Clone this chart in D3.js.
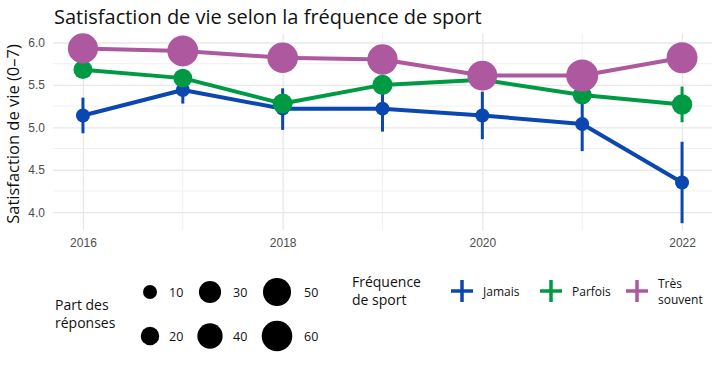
<!DOCTYPE html>
<html>
<head>
<meta charset="utf-8">
<script src="https://cdn.jsdelivr.net/npm/d3@7"></script>
<style>
  body { margin: 0; background: #fff; }
  svg { font-family: "Open Sans", "DejaVu Sans", sans-serif; }
</style>
</head>
<body>
<div class="chart"></div>
<script>
const years = [2016, 2017, 2018, 2019, 2020, 2021, 2022];
const groups = ["Jamais", "Parfois", "Très souvent"];
const groupLabels = [["Jamais"], ["Parfois"], ["Très", "souvent"]];
const colors = ["#0a47b1", "#009a44", "#ae589f"];

// mean life satisfaction
const jamaisMean = [5.14, 5.44, 5.22, 5.22, 5.14, 5.04, 4.35];
const parfoisMean = [5.68, 5.58, 5.28, 5.50, 5.56, 5.38, 5.27];
const tresMean = [5.93, 5.90, 5.82, 5.80, 5.61, 5.61, 5.82];
// confidence interval bounds
const jamaisLow = [4.93, 5.28, 4.97, 4.95, 4.86, 4.72, 3.87];
const jamaisHigh = [5.35, 5.58, 5.46, 5.48, 5.42, 5.36, 4.83];
const parfoisLow = [5.58, 5.48, 5.17, 5.40, 5.46, 5.28, 5.06];
const parfoisHigh = [5.78, 5.68, 5.39, 5.60, 5.66, 5.48, 5.48];
const tresLow = [5.87, 5.84, 5.76, 5.74, 5.55, 5.55, 5.76];
const tresHigh = [5.99, 5.96, 5.88, 5.86, 5.67, 5.67, 5.88];
// share of responses (%)
const jamaisShare = [10, 10, 10, 10, 10, 10, 10];
const parfoisShare = [21, 21, 24, 24, 23, 21, 25];
const tresShare = [58, 61, 60, 59, 57, 66, 61];

const sizeBreaks = [10, 20, 30, 40, 50, 60];
const yTicks = [4.0, 4.5, 5.0, 5.5, 6.0];
const yMinor = [4.25, 4.75, 5.25, 5.75];
const xTicks = [2016, 2018, 2020, 2022];
const xMinor = [2017, 2019, 2021];

const means = [jamaisMean, parfoisMean, tresMean];
const lows = [jamaisLow, parfoisLow, tresLow];
const highs = [jamaisHigh, parfoisHigh, tresHigh];
const shares = [jamaisShare, parfoisShare, tresShare];

const series = groups.map((g, gi) => years.map((yr, i) => ({
    group: gi, year: yr, mean: means[gi][i], low: lows[gi][i], high: highs[gi][i], share: shares[gi][i]
})));

const width = 720, height = 371;
const panel = {left: 53, right: 712, top: 34, bottom: 230};

const svg = d3.select(".chart").append("svg")
    .attr("width", width)
    .attr("height", height);

const x = d3.scaleLinear().domain([2015.7, 2022.3]).range([panel.left, panel.right]);
const y = d3.scaleLinear().domain([3.79, 6.1]).range([panel.bottom, panel.top]);
const size = d3.scaleRadial().domain([10, 60]).range([7, 15.3]);

// grid
svg.append("g").selectAll("line").data(yMinor).enter().append("line")
    .attr("x1", panel.left).attr("x2", panel.right)
    .attr("y1", d => y(d)).attr("y2", d => y(d))
    .attr("stroke", "#f0f0f0").attr("stroke-width", 1);
svg.append("g").selectAll("line").data(xMinor).enter().append("line")
    .attr("x1", d => x(d)).attr("x2", d => x(d))
    .attr("y1", panel.top).attr("y2", panel.bottom)
    .attr("stroke", "#f0f0f0").attr("stroke-width", 1);

const yGrid = svg.append("g")
    .attr("transform", `translate(${panel.left},0)`)
    .call(d3.axisLeft(y).tickValues(yTicks).tickSize(-(panel.right - panel.left)).tickFormat(""));
yGrid.select(".domain").remove();
yGrid.selectAll("line").attr("stroke", "#e8e8e8").attr("stroke-width", 1.3);

const xGrid = svg.append("g")
    .attr("transform", `translate(0,${panel.bottom})`)
    .call(d3.axisBottom(x).tickValues(xTicks).tickSize(-(panel.bottom - panel.top)).tickFormat(""));
xGrid.select(".domain").remove();
xGrid.selectAll("line").attr("stroke", "#e8e8e8").attr("stroke-width", 1.3);

// axis labels
const yAxis = svg.append("g")
    .attr("transform", `translate(${panel.left},0)`)
    .call(d3.axisLeft(y).tickValues(yTicks).tickSize(0).tickPadding(8).tickFormat(d3.format(".1f")));
yAxis.select(".domain").remove();
yAxis.selectAll("text").attr("fill", "#4d4d4d").style("font-size", "12px");

const xAxis = svg.append("g")
    .attr("transform", `translate(0,${panel.bottom})`)
    .call(d3.axisBottom(x).tickValues(xTicks).tickSize(0).tickPadding(8).tickFormat(d3.format("d")));
xAxis.select(".domain").remove();
xAxis.selectAll("text").attr("fill", "#4d4d4d").style("font-size", "12px");

svg.append("text")
    .attr("transform", `translate(19, ${(panel.top + panel.bottom) / 2 + 2}) rotate(-90)`)
    .attr("text-anchor", "middle")
    .style("font-size", "16.5px")
    .attr("fill", "#111")
    .text("Satisfaction de vie (0–7)");

svg.append("text")
    .attr("x", 54).attr("y", 24)
    .style("font-size", "20px")
    .attr("fill", "#111")
    .text("Satisfaction de vie selon la fréquence de sport");

// lines
const line = d3.line().x(d => x(d.year)).y(d => y(d.mean));
svg.append("g").selectAll("path").data(series).enter().append("path")
    .attr("d", line)
    .attr("fill", "none")
    .attr("stroke", (d, i) => colors[i])
    .attr("stroke-width", 4)
    .attr("stroke-linejoin", "round");

// error bars
svg.append("g").selectAll("g").data(series).enter().append("g")
    .attr("stroke", (d, i) => colors[i])
    .attr("stroke-width", 3)
    .selectAll("line").data(d => d).enter().append("line")
    .attr("x1", d => x(d.year)).attr("x2", d => x(d.year))
    .attr("y1", d => y(d.low)).attr("y2", d => y(d.high));

// points
svg.append("g").selectAll("g").data(series).enter().append("g")
    .attr("fill", (d, i) => colors[i])
    .selectAll("circle").data(d => d).enter().append("circle")
    .attr("cx", d => x(d.year))
    .attr("cy", d => y(d.mean))
    .attr("r", d => size(d.share));

// size legend
const sizeLegend = svg.append("g");
["Part des", "réponses"].forEach((t, i) => {
    sizeLegend.append("text")
        .attr("x", 55).attr("y", 310 + i * 18)
        .style("font-size", "14px").attr("fill", "#111")
        .text(t);
});

const colX = [150, 210, 277];
const rowY = [292, 336];
const sizeKeys = sizeBreaks.map((v, i) => ({v, col: Math.floor(i / 2), row: i % 2}));
sizeLegend.selectAll("circle").data(sizeKeys).enter().append("circle")
    .attr("cx", d => colX[d.col])
    .attr("cy", d => rowY[d.row])
    .attr("r", d => size(d.v))
    .attr("fill", "#000");
sizeLegend.selectAll("text.lab").data(sizeKeys).enter().append("text")
    .attr("class", "lab")
    .attr("x", d => colX[d.col] + 19 + d.col * 4)
    .attr("y", d => rowY[d.row] + 4.5)
    .style("font-size", "12.5px").attr("fill", "#111")
    .text(d => d.v);

// colour legend
const colLegend = svg.append("g");
["Fréquence", "de sport"].forEach((t, i) => {
    colLegend.append("text")
        .attr("x", 352).attr("y", 287 + i * 18)
        .style("font-size", "14px").attr("fill", "#111")
        .text(t);
});

const keyX = [462, 551, 637];
groups.forEach((g, i) => {
    const k = colLegend.append("g").attr("stroke", colors[i]).attr("stroke-width", 3.5);
    k.append("line").attr("x1", keyX[i] - 11).attr("x2", keyX[i] + 11).attr("y1", 291).attr("y2", 291);
    k.append("line").attr("x1", keyX[i]).attr("x2", keyX[i]).attr("y1", 280).attr("y2", 302);
    const lbl = groupLabels[i];
    lbl.forEach((t, j) => {
        colLegend.append("text")
            .attr("x", keyX[i] + 21)
            .attr("y", 295.5 - (lbl.length - 1) * 8 + j * 16)
            .style("font-size", "12px").attr("fill", "#111")
            .text(t);
    });
});
</script>
</body>
</html>
